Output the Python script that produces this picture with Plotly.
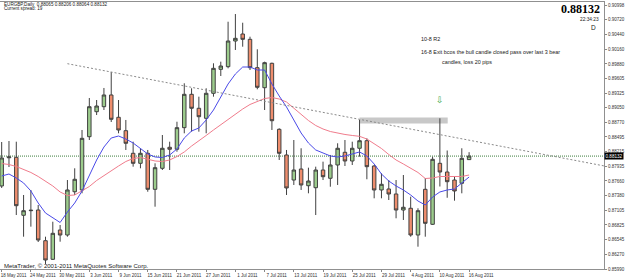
import plotly.graph_objects as go
import pandas as pd

# ---------------- data ----------------
dates = [d.strftime("%Y-%m-%d") for d in pd.bdate_range("2011-05-18", "2011-08-16")]

opens = [0.87565, 0.88100, 0.88109, 0.87009, 0.87096, 0.87109, 0.86527, 0.86174, 0.86730, 0.86635,
         0.87456, 0.87489, 0.88500, 0.88974, 0.89069, 0.89291, 0.88868, 0.88614, 0.88185, 0.87995,
         0.88185, 0.87502, 0.87900, 0.88299, 0.88261, 0.88671, 0.89304, 0.89039, 0.88849, 0.89323,
         0.89778, 0.89828, 0.90315, 0.90448, 0.90347, 0.89809, 0.89429, 0.89892, 0.88640, 0.88153,
         0.87678, 0.87887, 0.87570, 0.87532, 0.87868, 0.87711, 0.87963, 0.88204, 0.88039, 0.88280,
         0.88424, 0.87944, 0.87489, 0.87508, 0.87413, 0.87109, 0.87142, 0.86635, 0.87502, 0.86838,
         0.87995, 0.87830, 0.87678, 0.87616, 0.88065]
highs = [0.88399, 0.88418, 0.88405, 0.87394, 0.87489, 0.87204, 0.86603, 0.86887, 0.86825, 0.87678,
         0.87900, 0.88627, 0.89234, 0.89196, 0.89424, 0.89727, 0.89196, 0.88817, 0.88405, 0.88280,
         0.88248, 0.87995, 0.88532, 0.88405, 0.88784, 0.89513, 0.89418, 0.89259, 0.89418, 0.89892,
         0.89923, 0.90681, 0.90827, 0.90662, 0.90397, 0.90158, 0.89923, 0.89904, 0.88659, 0.88248,
         0.88437, 0.88280, 0.87912, 0.87931, 0.88026, 0.88153, 0.88375, 0.88437, 0.88405, 0.88817,
         0.88469, 0.87963, 0.87806, 0.87678, 0.87678, 0.87773, 0.87362, 0.87142, 0.87716, 0.88121,
         0.88849, 0.88238, 0.87741, 0.88280, 0.88206]
lows = [0.87527, 0.87925, 0.87014, 0.86603, 0.86793, 0.86502, 0.86085, 0.86161, 0.86508, 0.86603,
        0.87394, 0.87426, 0.88437, 0.88911, 0.89006, 0.88779, 0.88564, 0.88248, 0.87931, 0.87900,
        0.87456, 0.87172, 0.87868, 0.87868, 0.88215, 0.88564, 0.88595, 0.88595, 0.88564, 0.89259,
        0.89651, 0.89797, 0.90145, 0.90207, 0.89765, 0.89399, 0.89006, 0.88627, 0.88058, 0.87394,
        0.87584, 0.87489, 0.87426, 0.87014, 0.87678, 0.87551, 0.87584, 0.87944, 0.87963, 0.88121,
        0.87692, 0.87331, 0.87331, 0.87299, 0.86952, 0.86920, 0.86603, 0.86413, 0.86603, 0.86825,
        0.87555, 0.87341, 0.87286, 0.87426, 0.88064]
closes = [0.88096, 0.88115, 0.87191, 0.87096, 0.87104, 0.86540, 0.86161, 0.86667, 0.86635, 0.87489,
          0.87692, 0.88469, 0.89069, 0.89082, 0.89291, 0.88830, 0.88627, 0.88375, 0.87995, 0.88185,
          0.87502, 0.87912, 0.88280, 0.88261, 0.88671, 0.89304, 0.89039, 0.88879, 0.89323, 0.89797,
          0.89841, 0.90315, 0.90366, 0.90347, 0.89809, 0.89437, 0.89904, 0.88803, 0.88185, 0.87527,
          0.87868, 0.87584, 0.87659, 0.87868, 0.87741, 0.87963, 0.88280, 0.88039, 0.88280, 0.88424,
          0.87931, 0.87489, 0.87597, 0.87413, 0.87109, 0.87161, 0.86635, 0.87096, 0.86857, 0.88071,
          0.87830, 0.87646, 0.87470, 0.88090, 0.88132]

ma_fast = [0.87754, 0.87792, 0.87716, 0.87622, 0.87470, 0.87242, 0.87052, 0.86958, 0.86872, 0.87071,
           0.87242, 0.87470, 0.87773, 0.88058, 0.88304, 0.88475, 0.88513, 0.88456, 0.88380, 0.88267,
           0.88172, 0.88115, 0.88105, 0.88153, 0.88267, 0.88475, 0.88608, 0.88665, 0.88817, 0.89006,
           0.89253, 0.89500, 0.89689, 0.89822, 0.89822, 0.89765, 0.89765, 0.89500, 0.89272, 0.89063,
           0.88817, 0.88570, 0.88380, 0.88248, 0.88191, 0.88134, 0.88115, 0.88134, 0.88172, 0.88210,
           0.88134, 0.87982, 0.87792, 0.87659, 0.87565, 0.87489, 0.87394, 0.87280, 0.87204, 0.87356,
           0.87451, 0.87489, 0.87508, 0.87622, 0.87735]
ma_slow = [0.87991, 0.87972, 0.87935, 0.87878, 0.87821, 0.87745, 0.87659, 0.87565, 0.87451, 0.87384,
           0.87394, 0.87470, 0.87555, 0.87669, 0.87764, 0.87849, 0.87944, 0.88029, 0.88086, 0.88105,
           0.88077, 0.88039, 0.88029, 0.88058, 0.88124, 0.88210, 0.88323, 0.88418, 0.88523, 0.88627,
           0.88731, 0.88826, 0.88930, 0.89025, 0.89111, 0.89168, 0.89224, 0.89243, 0.89215, 0.89158,
           0.89044, 0.88921, 0.88807, 0.88712, 0.88646, 0.88598, 0.88564, 0.88542, 0.88523, 0.88507,
           0.88456, 0.88371, 0.88276, 0.88162, 0.88058, 0.87982, 0.87897, 0.87821, 0.87707, 0.87716,
           0.87745, 0.87745, 0.87735, 0.87745, 0.87773]

price_ticks = [0.90998, 0.90720, 0.90440, 0.90160, 0.89880, 0.89605, 0.89325, 0.89050, 0.88770,
               0.88495, 0.88215, 0.87935, 0.87660, 0.87380, 0.87105, 0.86825, 0.86545, 0.86270, 0.85990]
date_tick_idx = [0, 4, 8, 12, 16, 20, 24, 28, 32, 36, 40, 44, 48, 52, 56, 60, 64]
date_tick_text = ["18 May 2011", "24 May 2011", "30 May 2011", "3 Jun 2011", "9 Jun 2011",
                  "15 Jun 2011", "21 Jun 2011", "27 Jun 2011", "1 Jul 2011", "7 Jul 2011",
                  "13 Jul 2011", "19 Jul 2011", "25 Jul 2011", "29 Jul 2011", "4 Aug 2011",
                  "10 Aug 2011", "16 Aug 2011"]

current_price = 0.88132
trend_start = (9, 0.89885)
trend_end = (82.47, 0.87946)
zone_x = (49, 61.07)
zone_y = (0.88750, 0.88864)
arrow_pos = (60, 0.89196)

# ---------------- figure ----------------
W, H = 625, 279
ML, MR, MT, MB = 0, 18, 2, 10
PW, PH = W - ML - MR, H - MT - MB
def px(x):
    return x / PW
def py(y):
    return (PH + MT - y) / PH

fig = go.Figure()
fig.add_trace(go.Candlestick(
    x=dates, open=opens, high=highs, low=lows, close=closes,
    increasing=dict(fillcolor="#9ccc8c", line=dict(color="#404040", width=1)),
    decreasing=dict(fillcolor="#ee8d6d", line=dict(color="#404040", width=1)),
    whiskerwidth=0, showlegend=False, hoverinfo="skip"))
fig.add_trace(go.Scatter(x=dates, y=ma_slow, mode="lines",
                         line=dict(color="#f07c8c", width=1), showlegend=False))
fig.add_trace(go.Scatter(x=dates, y=ma_fast, mode="lines",
                         line=dict(color="#4a4ae8", width=1), showlegend=False))

# current price line
fig.add_shape(type="line", xref="paper", x0=0, x1=1, y0=current_price, y1=current_price,
              line=dict(color="#3d7d3d", width=1, dash="1px,1px"), layer="below")
# trend line
fig.add_shape(type="line", x0=trend_start[0], y0=trend_start[1], x1=trend_end[0], y1=trend_end[1],
              line=dict(color="#8a8a8a", width=1, dash="2px,2px"))
# resistance zone
fig.add_shape(type="rect", x0=zone_x[0], x1=zone_x[1], y0=zone_y[0], y1=zone_y[1],
              fillcolor="#c8c8c8", line=dict(width=0), layer="below")

ann = []
small = dict(family="Liberation Sans", size=4.6, color="#202020")
ann.append(dict(xref="paper", yref="paper", x=px(2), y=py(4), xanchor="left", yanchor="middle",
                text="EURGBP,Daily  0.88065 0.88206 0.88064 0.88132", showarrow=False, font=small))
ann.append(dict(xref="paper", yref="paper", x=px(2), y=py(8.5), xanchor="left", yanchor="middle",
                text="Current spread: 19", showarrow=False, font=small))
ann.append(dict(xref="paper", yref="paper", x=px(605), y=py(9), xanchor="right", yanchor="middle",
                text="<b>0.88132</b>", showarrow=False,
                font=dict(family="Liberation Sans Narrow", size=12, color="#000000")))
ann.append(dict(xref="paper", yref="paper", x=px(604), y=py(19), xanchor="right", yanchor="middle",
                text="22:34:23", showarrow=False,
                font=dict(family="Liberation Sans", size=4.8, color="#202020")))
ann.append(dict(xref="paper", yref="paper", x=px(601), y=py(27.5), xanchor="right", yanchor="middle",
                text="D", showarrow=False,
                font=dict(family="Liberation Sans", size=6.5, color="#202020")))
note = dict(family="Liberation Sans", size=5.4, color="#202020")
ann.append(dict(xref="paper", yref="paper", x=px(421), y=py(39), xanchor="left", yanchor="middle",
                text="10-8 R2", showarrow=False, font=note))
ann.append(dict(xref="paper", yref="paper", x=px(421), y=py(52), xanchor="left", yanchor="middle",
                text="16-8 Exit bcos the bull candle closed pass over last 3 bear", showarrow=False, font=note))
ann.append(dict(xref="paper", yref="paper", x=px(442), y=py(62), xanchor="left", yanchor="middle",
                text="candles, loss 20 pips", showarrow=False, font=note))
ann.append(dict(xref="paper", yref="paper", x=px(2), y=py(266), xanchor="left", yanchor="middle",
                text="MetaTrader, © 2001-2011 MetaQuotes Software Corp.", showarrow=False,
                font=dict(family="Liberation Sans", size=6, color="#202020")))
ann.append(dict(x=arrow_pos[0], y=arrow_pos[1], xref="x", yref="y", text="⇩", showarrow=False,
                font=dict(family="DejaVu Sans", size=9, color="#3aa84a")))
ann.append(dict(xref="paper", yref="y", x=1, y=current_price, xanchor="left", yanchor="middle",
                text="0.88132", showarrow=False, bgcolor="#000000", borderpad=0.5,
                font=dict(family="Liberation Sans", size=4.6, color="#ffffff")))

fig.update_layout(
    width=W, height=H, margin=dict(l=ML, r=MR, t=MT, b=MB),
    paper_bgcolor="white", plot_bgcolor="white",
    annotations=ann, boxgap=0.32,
    xaxis=dict(type="category", range=[-0.23, 82.47], rangeslider=dict(visible=False),
               tickmode="array", tickvals=[dates[i] for i in date_tick_idx], ticktext=date_tick_text,
               ticks="outside", ticklen=2, tickcolor="#888", ticklabelshift=12, ticklabelstandoff=0,
               tickfont=dict(family="Liberation Sans", size=4.5, color="#303030"),
               showgrid=False, showline=True, linecolor="#909090", mirror=True, zeroline=False),
    yaxis=dict(side="right", range=[0.85990, 0.91055], tickmode="array", tickvals=price_ticks,
               ticktext=[f"{v:.5f}" for v in price_ticks], ticks="outside", ticklen=2, tickcolor="#888",
               tickfont=dict(family="Liberation Sans", size=4.5, color="#303030"),
               showgrid=False, showline=True, linecolor="#909090", zeroline=False),
)

fig.write_html("out.html")
